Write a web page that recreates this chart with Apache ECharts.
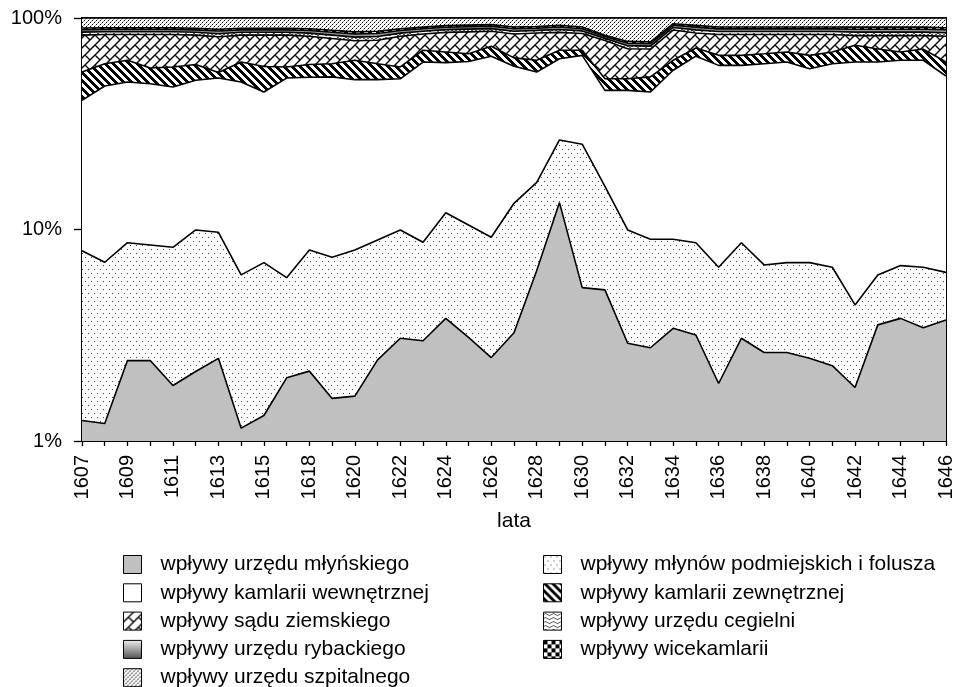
<!DOCTYPE html>
<html>
<head>
<meta charset="utf-8">
<script src="https://cdn.jsdelivr.net/npm/echarts@6/dist/echarts.min.js"></script>
<style>
  html, body { margin: 0; padding: 0; background: #fff; }
  #chart { width: 956px; height: 687px; }
</style>
</head>
<body>
<div id="chart"></div>
<script>
// lata (1616 brak w zestawieniu)
var years = ['1607', '1608', '1609', '1610', '1611', '1612', '1613', '1614', '1615', '1617',
    '1618', '1619', '1620', '1621', '1622', '1623', '1624', '1625', '1626', '1627',
    '1628', '1629', '1630', '1631', '1632', '1633', '1634', '1635', '1636', '1637',
    '1638', '1639', '1640', '1641', '1642', '1643', '1644', '1645', '1646'];

// udział poszczególnych wpływów (%)
var mlynski = [1.25, 1.21, 2.40, 2.40, 1.83, 2.13, 2.46, 1.15, 1.32, 1.99, 2.14, 1.59, 1.63, 2.42, 3.06, 2.98, 3.80, 3.09, 2.48, 3.25,
    6.4, 13.4, 5.31, 5.18, 2.90, 2.76, 3.41, 3.17, 1.87, 3.06, 2.62, 2.62, 2.46, 2.27, 1.79, 3.54, 3.80, 3.43, 3.73];
var podmiejskie = [6.69, 5.79, 6.26, 6.05, 6.41, 7.82, 7.24, 4.95, 5.65, 3.93, 5.86, 5.80, 6.37, 6.50, 6.89, 5.72, 8.20, 7.41, 6.71, 10.05,
    10.30, 13.10, 19.99, 10.82, 7.05, 6.23, 5.58, 5.49, 4.76, 5.60, 4.18, 4.35, 4.51, 4.36, 2.61, 2.56, 2.95, 3.20, 2.54];
var wewnetrzna = [32.86, 40.70, 41.14, 40.45, 38.96, 40.85, 42.30, 43.70, 37.73, 46.08, 44.50, 45.31, 43.10, 42.18, 41.65, 53.20, 49.50, 51.80, 56.71, 45.90,
    38.80, 37.70, 41.30, 29.50, 35.55, 35.71, 47.61, 57.34, 53.07, 51.04, 54.00, 54.93, 50.63, 54.17, 57.50, 55.80, 56.35, 56.47, 46.93];
var zewnetrzna = [14.7, 13.1, 13.3, 9.1, 11.5, 9.5, 3.3, 12.1, 14.3, 6.7, 7.8, 8.1, 12.0, 9.7, 7.1, 8.5, 7.6, 5.5, 7.6, 5.6,
    7.6, 6.2, 3.8, 6.1, 6.1, 8.0, 6.5, 6.1, 6.9, 6.9, 7.0, 7.2, 9.0, 8.3, 12.4, 9.4, 6.0, 8.2, 8.7];
var sad = [27.5, 22.7, 20.4, 25.5, 24.8, 22.7, 26.2, 21.1, 24.0, 24.3, 21.7, 19.2, 14.9, 17.7, 23.3, 13.6, 16.4, 18.2, 13.0, 19.2,
    21.9, 15.1, 14.1, 26.7, 20.0, 18.6, 24.6, 12.9, 16.9, 16.9, 15.7, 14.4, 16.9, 14.4, 8.2, 11.2, 13.4, 11.2, 20.1];
var cegielnia = [2.7, 2.6, 2.6, 2.6, 2.6, 2.6, 2.8, 2.6, 2.6, 2.6, 2.8, 3.0, 3.2, 3.2, 2.8, 2.6, 2.6, 2.6, 2.6, 2.6,
    2.4, 2.8, 2.4, 1.8, 2.4, 2.3, 2.5, 2.9, 2.8, 2.8, 2.8, 2.8, 2.8, 2.8, 3.2, 3.2, 3.2, 3.2, 3.2];
var rybacki = [2.3, 2.3, 2.3, 2.3, 2.3, 2.3, 2.5, 2.3, 2.3, 2.3, 2.5, 2.6, 2.8, 2.8, 2.5, 2.3, 2.3, 2.3, 2.3, 2.3,
    2.1, 2.4, 2.1, 1.6, 2.0, 2.0, 2.2, 2.6, 2.5, 2.5, 2.5, 2.5, 2.5, 2.5, 2.8, 2.8, 2.8, 2.8, 2.8];
var wicekamlaria = [1.7, 1.6, 1.6, 1.6, 1.6, 1.6, 1.7, 1.6, 1.6, 1.6, 1.7, 1.9, 2.0, 2.0, 1.7, 1.6, 1.6, 1.6, 1.6, 1.7,
    1.5, 1.7, 1.6, 1.1, 1.5, 1.5, 1.6, 1.8, 1.8, 1.8, 1.8, 1.8, 1.8, 1.8, 2.0, 2.0, 2.0, 2.0, 2.0];
var szpital = [10.3, 10, 10, 10, 10, 10.5, 11.5, 10.5, 10.5, 10.5, 11, 12.5, 14, 13.5, 11, 9.5, 8, 7.5, 7, 9.4,
    9, 7.6, 9.4, 17.2, 22.5, 22.9, 6, 7.7, 9.4, 9.4, 9.4, 9.4, 9.4, 9.4, 9.5, 9.5, 9.5, 9.5, 10];

var yTicks = [1, 10, 100];

// wzory wypełnień (kafelki rysowane na canvasie)
function tile(w, h, draw) {
    var c = document.createElement('canvas');
    c.width = w; c.height = h;
    var g = c.getContext('2d');
    g.fillStyle = '#fff';
    g.fillRect(0, 0, w, h);
    draw(g);
    return { image: c, repeat: 'repeat' };
}
function px(g, x, y, col) { g.fillStyle = col || '#000'; g.fillRect(x, y, 1, 1); }

var fillMlyn = '#c0c0c0';
var fillPodm = tile(6, 8, function (g) { px(g, 1, 1, '#444'); px(g, 4, 5, '#444'); });
var fillWewn = '#ffffff';
var fillZewn = tile(8, 8, function (g) {
    for (var y = 0; y < 8; y++) for (var k = 0; k < 4; k++) px(g, (y + k) % 8, y);
});
// cegiełka ukośna
var fillSad = tile(10, 10, function (g) {
    g.strokeStyle = '#000';
    g.lineWidth = 1.4;
    g.beginPath();
    [[-5, 5, 5, -5], [0, 10, 10, 0], [5, 15, 15, 5],
     [-5, -5, 0, 0], [5, 5, 10, 10], [5, -5, 10, 0], [-5, 5, 0, 10]].forEach(function (s) {
        g.moveTo(s[0], s[1]); g.lineTo(s[2], s[3]);
    });
    g.stroke();
});
var fillCeg = tile(8, 4, function (g) {
    [[0, 2], [1, 1], [2, 1], [3, 2], [4, 2], [5, 3], [6, 3], [7, 2]].forEach(function (p) { px(g, p[0], p[1], '#555'); });
});
var fillRyb = '#9a9a9a';
var fillRybLegend = { type: 'linear', x: 0, y: 0, x2: 0, y2: 1, colorStops: [{ offset: 0, color: '#f0f0f0' }, { offset: 1, color: '#505050' }] };
var fillWice = tile(8, 8, function (g) { g.fillStyle = '#000'; g.fillRect(0, 0, 4, 4); g.fillRect(4, 4, 4, 4); });
var fillSzp = tile(4, 4, function (g) { px(g, 0, 0); px(g, 2, 2); px(g, 1, 3, '#999'); px(g, 3, 1, '#999'); });

// warstwy od dołu do góry
var layers = [
    { name: 'wpływy urzędu młyńskiego', data: mlynski, fill: fillMlyn },
    { name: 'wpływy młynów podmiejskich i folusza', data: podmiejskie, fill: fillPodm },
    { name: 'wpływy kamlarii wewnętrznej', data: wewnetrzna, fill: fillWewn },
    { name: 'wpływy kamlarii zewnętrznej', data: zewnetrzna, fill: fillZewn },
    { name: 'wpływy sądu ziemskiego', data: sad, fill: fillSad },
    { name: 'wpływy urzędu cegielni', data: cegielnia, fill: fillCeg },
    { name: 'wpływy urzędu rybackiego', data: rybacki, fill: fillRyb, legendFill: fillRybLegend },
    { name: 'wpływy wicekamlarii', data: wicekamlaria, fill: fillWice },
    { name: 'wpływy urzędu szpitalnego', data: szpital, fill: fillSzp }
];

// skumulowane wartości (oś logarytmiczna, więc stos liczymy sami)
var running = years.map(function () { return 0; });
layers.forEach(function (l) {
    l.cum = l.data.map(function (v, i) { running[i] += v; return Math.min(100, +running[i].toFixed(3)); });
});

// najwyższa warstwa rysowana najpierw, niższe przykrywają ją od dołu
var series = layers.slice().reverse().map(function (l) {
    return {
        name: l.name,
        type: 'line',
        data: l.cum,
        symbol: 'none',
        silent: true,
        lineStyle: { color: '#000', width: 1.6 },
        itemStyle: { color: l.fill },
        areaStyle: { color: l.fill, opacity: 1, origin: 'start' }
    };
});

function legendData(names) {
    return names.map(function (n) {
        var l = layers.filter(function (x) { return x.name === n; })[0];
        return { name: n, itemStyle: { color: l.legendFill || l.fill } };
    });
}

var font = '"Liberation Sans", Arial, sans-serif';
var legendBase = {
    orient: 'vertical',
    top: 554,
    height: 200,
    padding: 0,
    icon: 'rect',
    itemWidth: 18,
    itemHeight: 18,
    itemGap: 7.3,
    selectedMode: false,
    itemStyle: { borderColor: '#000', borderWidth: 1 },
    textStyle: { fontFamily: font, fontSize: 21, color: '#000', padding: [0, 0, 0, 14] }
};

var chart = echarts.init(document.getElementById('chart'));
chart.setOption({
    animation: false,
    backgroundColor: '#fff',
    grid: { left: 82, right: 4, top: 18, bottom: 246, show: true, borderColor: '#000', borderWidth: 2, backgroundColor: 'transparent' },
    legend: [
        Object.assign({}, legendBase, {
            left: 123,
            data: legendData(['wpływy urzędu młyńskiego', 'wpływy kamlarii wewnętrznej', 'wpływy sądu ziemskiego',
                'wpływy urzędu rybackiego', 'wpływy urzędu szpitalnego'])
        }),
        Object.assign({}, legendBase, {
            left: 543,
            data: legendData(['wpływy młynów podmiejskich i folusza', 'wpływy kamlarii zewnętrznej',
                'wpływy urzędu cegielni', 'wpływy wicekamlarii'])
        })
    ],
    xAxis: {
        type: 'category',
        data: years,
        boundaryGap: false,
        name: 'lata',
        nameLocation: 'middle',
        nameGap: 70,
        nameTextStyle: { fontFamily: font, fontSize: 21, color: '#000' },
        axisLine: { lineStyle: { color: '#000', width: 1.5 } },
        axisTick: { interval: 0, length: 5, lineStyle: { color: '#000', width: 1.3 } },
        axisLabel: { interval: 1, rotate: 90, margin: 14, fontFamily: font, fontSize: 20, color: '#000' },
        splitLine: { show: false }
    },
    yAxis: {
        type: 'log',
        logBase: 10,
        min: yTicks[0],
        max: yTicks[yTicks.length - 1],
        axisLine: { show: true, lineStyle: { color: '#000', width: 1.5 } },
        axisTick: { show: true, length: 8, lineStyle: { color: '#000', width: 1.3 } },
        axisLabel: { margin: 20, fontFamily: font, fontSize: 20, color: '#000', formatter: '{value}%' },
        splitLine: { show: false }
    },
    series: series
});
</script>
</body>
</html>
